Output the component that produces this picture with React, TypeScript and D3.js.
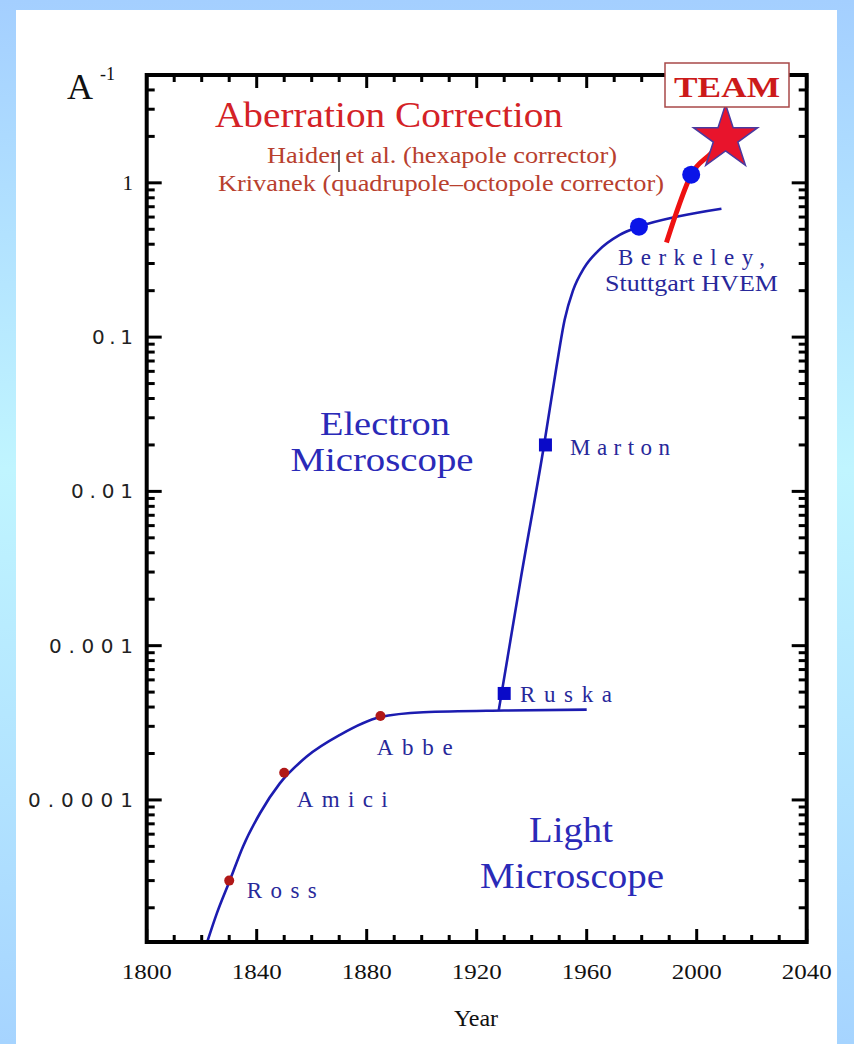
import * as d3 from "d3";

// light microscope resolution curve (year, 1/Angstrom)
const lightYears = [1822, 1825.5, 1830.3, 1835, 1841.2, 1848.4, 1858.2, 1870.3, 1884.6, 1900.6, 1930, 1960];
const lightValues = [1.2e-5, 1.84e-5, 3.03e-5, 4.98e-5, 8.2e-5, 1.28e-4, 1.91e-4, 2.64e-4, 3.43e-4, 3.7e-4, 3.8e-4, 3.85e-4];

// electron microscope curve
const electronYears = [1928, 1936, 1944.5, 1949, 1952, 1955, 1959, 1964, 1972, 1979, 1994, 2009];
const electronValues = [3.8e-4, 2.7e-3, 0.02, 0.064, 0.13, 0.2, 0.28, 0.36, 0.46, 0.52, 0.61, 0.68];

// aberration corrected (red) curve
const correctedYears = [1989, 1992.6, 1998, 2005.3, 2010];
const correctedValues = [0.41, 0.64, 1.13, 1.56, 1.95];

// milestones
const lightNames = ["Ross", "Amici", "Abbe"];
const lightMarkYears = [1830, 1850, 1885];
const lightMarkValues = [3.0e-5, 1.5e-4, 3.5e-4];

const squareNames = ["Ruska", "Marton"];
const squareYears = [1930, 1945];
const squareValues = [4.9e-4, 0.02];

const circleYears = [1979, 1998];
const circleValues = [0.52, 1.13];

const starYear = 2010.5;
const starValue = 1.95;

const xTickLabels = [1800, 1840, 1880, 1920, 1960, 2000, 2040];
const yTickValues = [1, 0.1, 0.01, 0.001, 0.0001];
const yTickLabels = ["1", "0.1", "0.01", "0.001", "0.0001"];

const W = 854;
const H = 1044;
const LEFT = 146.7;
const RIGHT = 806.7;
const TOP = 75;
const BOTTOM = 942;

export default function App() {
  const x = d3.scaleLinear().domain([1800, 2040]).range([LEFT, RIGHT]);
  const y = d3.scaleLog().domain([1.2e-5, 5]).range([BOTTOM, TOP]);

  const line = d3
    .line<[number, number]>()
    .x((d) => x(d[0]))
    .y((d) => y(d[1]))
    .curve(d3.curveMonotoneX);

  const lightPath = line(lightYears.map((yr, i) => [yr, lightValues[i]]));
  const electronPath = line(electronYears.map((yr, i) => [yr, electronValues[i]]));
  const correctedPath = line(correctedYears.map((yr, i) => [yr, correctedValues[i]]));

  const xMinor = d3.range(1800, 2041, 10);
  const yMinor = y.ticks().filter((v) => v > 1.2e-5 && v < 5);

  const star = d3.symbol(d3.symbolStar, 1280)();

  const serif = "Liberation Serif, Times New Roman, serif";
  const navy = "#28289a";
  const blue = "#2a2ab8";

  const spaced = (label, px, yy, len, size = 23) => (
    <text
      key={label}
      x={px}
      y={yy}
      textLength={len}
      lengthAdjust="spacing"
      fontFamily={serif}
      fontSize={size}
      fill={navy}
    >
      {label}
    </text>
  );

  // label spots for the milestones (left x, baseline, width)
  const lightLabelPos = [
    [246.7, 898, 70],
    [296.7, 806.5, 91],
    [376.7, 755, 76],
  ];
  const squareLabelPos = [
    [520, 701.5, 92],
    [570, 455, 100],
  ];
  const yLabelWidths = [0, 41, 62, 84, 105];

  return (
    <div>
      <style>{`body{margin:0}`}</style>
      <svg width={W} height={H} style={{ display: "block" }}>
        <defs>
          <linearGradient id="bg" x1="0" y1="0" x2="0" y2="1">
            <stop offset="0" stopColor="#a4cfff" />
            <stop offset="0.45" stopColor="#c0f5ff" />
            <stop offset="1" stopColor="#a6d4ff" />
          </linearGradient>
        </defs>
        <rect width={W} height={H} fill="url(#bg)" />
        <rect x={16} y={10} width={821} height={H - 10} fill="#fff" />

        {/* curves */}
        <path d={lightPath} fill="none" stroke="#1c1cb0" strokeWidth={2.6} />
        <path d={electronPath} fill="none" stroke="#1c1cb0" strokeWidth={2.6} />
        <path d={correctedPath} fill="none" stroke="#ee1111" strokeWidth={5} />

        {/* markers */}
        {lightMarkYears.map((yr, i) => (
          <circle key={"l" + i} cx={x(yr)} cy={y(lightMarkValues[i])} r={5} fill="#b01818" />
        ))}
        {squareYears.map((yr, i) => (
          <rect
            key={"s" + i}
            x={x(yr) - 6.5}
            y={y(squareValues[i]) - 6.5}
            width={13}
            height={13}
            fill="#0a0ac8"
          />
        ))}
        {circleYears.map((yr, i) => (
          <circle key={"c" + i} cx={x(yr)} cy={y(circleValues[i])} r={9} fill="#0a14e8" />
        ))}
        <path
          d={star}
          transform={`translate(${x(starYear)},${y(starValue)})`}
          fill="#e8142c"
          stroke="#4a3aa0"
          strokeWidth={1.5}
        />

        {/* frame */}
        <rect x={LEFT} y={TOP} width={RIGHT - LEFT} height={BOTTOM - TOP} fill="none" stroke="#000" strokeWidth={4} />
        {xMinor.map((yr) => {
          const major = xTickLabels.includes(yr);
          const len = major ? 13 : 7;
          return (
            <g key={"xt" + yr} stroke="#000" strokeWidth={3}>
              <line x1={x(yr)} x2={x(yr)} y1={BOTTOM} y2={BOTTOM - len} />
              <line x1={x(yr)} x2={x(yr)} y1={TOP} y2={TOP + len} />
            </g>
          );
        })}
        {yMinor.map((v, i) => {
          const major = yTickValues.some((t) => Math.abs(t - v) / t < 1e-6);
          const len = major ? 15 : 8;
          return (
            <g key={"yt" + i} stroke="#000" strokeWidth={3}>
              <line x1={LEFT} x2={LEFT + len} y1={y(v)} y2={y(v)} />
              <line x1={RIGHT} x2={RIGHT - len} y1={y(v)} y2={y(v)} />
            </g>
          );
        })}

        {/* tick labels */}
        {xTickLabels.map((yr) => (
          <text key={"xl" + yr} x={x(yr)} y={979} textAnchor="middle" textLength={50} lengthAdjust="spacingAndGlyphs" fontFamily={serif} fontSize={22} fill="#111">
            {yr}
          </text>
        ))}
        {yTickLabels.map((lab, i) =>
          i === 0 ? (
            <text key={"yl" + i} x={133} y={y(yTickValues[i]) + 7} textAnchor="end" fontFamily={serif} fontSize={21} fill="#111">
              {lab}
            </text>
          ) : (
            <text
              key={"yl" + i}
              x={133 - yLabelWidths[i]}
              y={y(yTickValues[i]) + 7}
              textLength={yLabelWidths[i]}
              lengthAdjust="spacing"
              fontFamily="DejaVu Sans, sans-serif"
              fontSize={20}
              fill="#222"
            >
              {lab}
            </text>
          )
        )}
        <text x={476} y={1026} textAnchor="middle" fontFamily={serif} fontSize={24} fill="#111">
          Year
        </text>
        <text x={67} y={99} fontFamily={serif} fontSize={36} fill="#111">
          A
        </text>
        <text x={100} y={80} fontFamily={serif} fontSize={18} fill="#111">
          -1
        </text>

        {/* annotations */}
        <text x={215} y={127} textLength={348} lengthAdjust="spacingAndGlyphs" fontFamily={serif} fontSize={35} fill="#d42226">
          Aberration Correction
        </text>
        <text x={267} y={163} textLength={350} lengthAdjust="spacingAndGlyphs" fontFamily={serif} fontSize={23} fill="#b8402e">
          Haider et al. (hexapole corrector)
        </text>
        <line x1={339} x2={339} y1={150} y2={172} stroke="#000" strokeWidth={1.2} />
        <text x={218} y={191} textLength={446} lengthAdjust="spacingAndGlyphs" fontFamily={serif} fontSize={23} fill="#b8402e">
          Krivanek (quadrupole–octopole corrector)
        </text>

        <text x={385} y={435} textAnchor="middle" textLength={130} lengthAdjust="spacingAndGlyphs" fontFamily={serif} fontSize={33} fill={blue}>
          Electron
        </text>
        <text x={382} y={471} textAnchor="middle" textLength={183} lengthAdjust="spacingAndGlyphs" fontFamily={serif} fontSize={33} fill={blue}>
          Microscope
        </text>
        <text x={571} y={842} textAnchor="middle" textLength={84} lengthAdjust="spacingAndGlyphs" fontFamily={serif} fontSize={35} fill={blue}>
          Light
        </text>
        <text x={572} y={888} textAnchor="middle" textLength={184} lengthAdjust="spacingAndGlyphs" fontFamily={serif} fontSize={35} fill={blue}>
          Microscope
        </text>

        {lightNames.map((n, i) => spaced(n, lightLabelPos[i][0], lightLabelPos[i][1], lightLabelPos[i][2]))}
        {squareNames.map((n, i) => spaced(n, squareLabelPos[i][0], squareLabelPos[i][1], squareLabelPos[i][2]))}
        {spaced("Berkeley,", 618, 265, 147)}
        <text x={605} y={291} textLength={173} lengthAdjust="spacingAndGlyphs" fontFamily={serif} fontSize={23} fill={navy}>
          Stuttgart HVEM
        </text>

        {/* TEAM box */}
        <rect x={665} y={63} width={124} height={44} fill="#fff" stroke="#a84848" strokeWidth={1.5} />
        <text x={727} y={97} textAnchor="middle" textLength={106} lengthAdjust="spacingAndGlyphs" fontFamily={serif} fontWeight="bold" fontSize={29} fill="#cc1a1a">
          TEAM
        </text>
      </svg>
    </div>
  );
}
